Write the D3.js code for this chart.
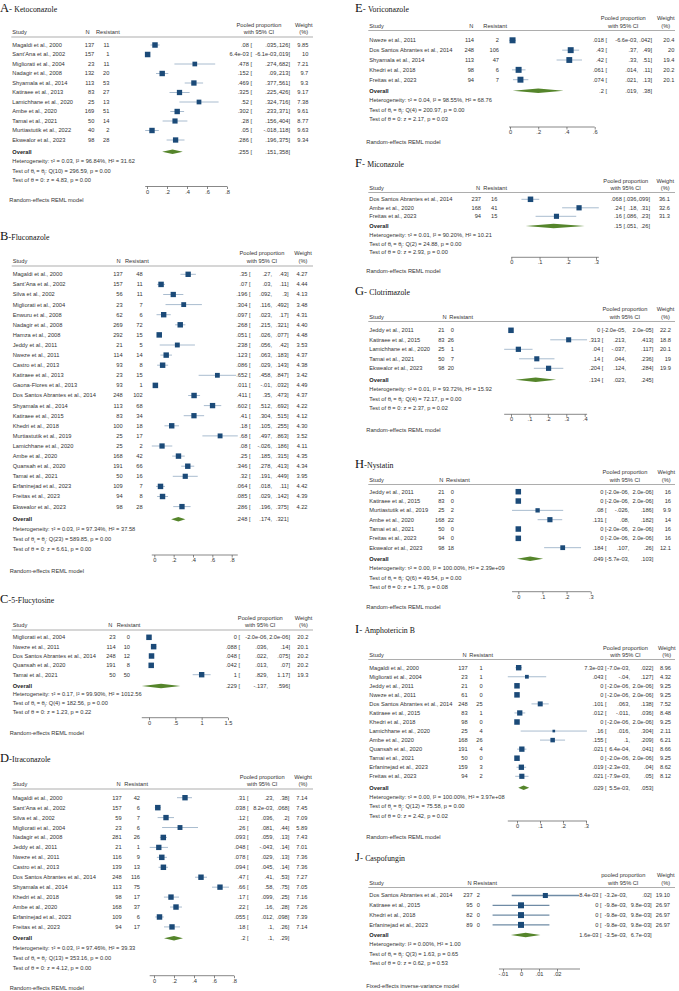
<!DOCTYPE html>
<html><head><meta charset="utf-8">
<script src="https://cdn.jsdelivr.net/npm/d3@7"></script>
<style>body{margin:0;background:#fff} svg{display:block}</style>
</head><body>
<svg id="c" width="679" height="991"></svg>
<script>
// ---------------- DATA ----------------
// A - Ketoconazole
const ketoStudies = ["Magaldi et al., 2000","Sant’Ana et al., 2002","Migliorati et al., 2004","Nadagir et al., 2008","Shyamala et al., 2014","Katiraee et al., 2013","Lamichhane et al., 2020","Ambe et al., 2020","Tamai et al., 2021","Murtiastutik et al., 2022","Ekwealor et al., 2023"];
const ketoN = [137,157,23,132,113,83,25,169,50,40,98];
const ketoRes = [11,1,11,20,53,27,13,51,14,2,28];
const ketoEst = [".08","6.4e-03",".478",".152",".469",".325",".52",".302",".28",".05",".286"];
const ketoLo = [".035","-6.1e-03",".274",".09",".377",".225",".324",".233",".156","-.018",".196"];
const ketoHi = [".126",".019",".682",".213",".561",".426",".716",".371",".404",".118",".375"];
const ketoW = ["9.85","10","7.21","9.7","9.3","9.17","7.38","9.61","8.77","9.63","9.34"];
const ketoOverall = [".255",".151",".358"];
const ketoHet = ["0.03","96.84","31.62","10","296.59","0.00","4.83","0.00"];
const ketoTicks = [0,.2,.4,.6,.8], ketoTickLabels = ["0",".2",".4",".6",".8"];

// B - Fluconazole
const flucoStudies = ["Magaldi et al., 2000","Sant’Ana et al., 2002","Silva et al., 2002","Migliorati et al., 2004","Enwuru et al., 2008","Nadagir et al., 2008","Hamza et al., 2008","Jeddy et al., 2011","Nweze et al., 2011","Castro et al., 2013","Katiraee et al., 2013","Gaona-Flores et al., 2013","Dos Santos Abrantes et al., 2014","Shyamala et al., 2014","Katiraee et al., 2015","Khedri et al., 2018","Murtiastutik et al., 2019","Lamichhane et al., 2020","Ambe et al., 2020","Quansah et al., 2020","Tamai et al., 2021","Erfaninejad et al., 2023","Freitas et al., 2023","Ekwealor et al., 2023"];
const flucoN = [137,157,56,23,62,269,292,21,114,93,23,93,248,113,83,100,25,25,168,191,50,109,94,98];
const flucoRes = [48,11,11,7,6,72,15,5,14,8,15,1,102,68,34,18,17,2,42,66,16,7,8,28];
const flucoEst = [".35",".07",".196",".304",".097",".268",".051",".238",".123",".086",".652",".011",".411",".602",".41",".18",".68",".08",".25",".346",".32",".064",".085",".286"];
const flucoLo = [".27",".03",".092",".116",".023",".215",".026",".056",".063",".029",".458","-.01",".35",".512",".304",".105",".497","-.026",".185",".278",".191",".018",".029",".196"];
const flucoHi = [".43",".11",".3",".492",".17",".321",".077",".42",".183",".143",".847",".032",".473",".692",".515",".255",".863",".186",".315",".413",".449",".11",".142",".375"];
const flucoW = ["4.27","4.44","4.13","3.48","4.31","4.40","4.48","3.53","4.37","4.38","3.42","4.49","4.37","4.22","4.12","4.30","3.52","4.11","4.35","4.34","3.95","4.42","4.39","4.22"];
const flucoOverall = [".248",".174",".321"];
const flucoHet = ["0.03","97.34","37.58","23","589.85","0.00","6.61","0.00"];
const flucoTicks = [0,.2,.4,.6,.8], flucoTickLabels = ["0",".2",".4",".6",".8"];

// C - 5-Flucytosine
const flucyStudies = ["Migliorati et al., 2004","Nweze et al., 2011","Dos Santos Abrantes et al., 2014","Quansah et al., 2020","Tamai et al., 2021"];
const flucyN = [23,114,248,191,50];
const flucyRes = [0,10,12,8,50];
const flucyEst = ["0",".088",".048",".042","1"];
const flucyLo = ["-2.0e-06",".036",".022",".013",".829"];
const flucyHi = ["2.0e-06",".14",".075",".07","1.17"];
const flucyW = ["20.2","20.1","20.2","20.2","19.3"];
const flucyOverall = [".229","-.137",".596"];
const flucyHet = ["0.17","99.90","1012.56","4","182.56","0.00","1.23","0.22"];
const flucyTicks = [0,.5,1,1.5], flucyTickLabels = ["0",".5","1","1.5"];

// D - Itraconazole
const itraStudies = ["Magaldi et al., 2000","Sant’Ana et al., 2002","Silva et al., 2002","Migliorati et al., 2004","Nadagir et al., 2008","Jeddy et al., 2011","Nweze et al., 2011","Castro et al., 2013","Dos Santos Abrantes et al., 2014","Shyamala et al., 2014","Khedri et al., 2018","Ambe et al., 2020","Erfaninejad et al., 2023","Freitas et al., 2023"];
const itraN = [137,157,59,23,281,21,116,139,248,113,98,168,109,94];
const itraRes = [42,6,7,6,26,1,9,13,116,75,17,37,6,17];
const itraEst = [".31",".038",".12",".26",".093",".048",".078",".094",".47",".66",".17",".22",".055",".18"];
const itraLo = [".23","8.2e-03",".036",".081",".059","-.043",".029",".045",".41",".58",".099",".16",".012",".1"];
const itraHi = [".38",".068",".2",".44",".13",".14",".13",".14",".53",".75",".25",".28",".098",".26"];
const itraW = ["7.14","7.45","7.09","5.89","7.43","7.01","7.36","7.36","7.27","7.05","7.16","7.26","7.39","7.14"];
const itraOverall = [".2",".1",".29"];
const itraHet = ["0.03","97.46","39.33","13","353.16","0.00","4.12","0.00"];
const itraTicks = [0,.2,.4,.6,.8], itraTickLabels = ["0",".2",".4",".6",".8"];

// E - Voriconazole
const voriStudies = ["Nweze et al., 2011","Dos Santos Abrantes et al., 2014","Shyamala et al., 2014","Khedri et al., 2018","Freitas et al., 2023"];
const voriN = [114,248,113,98,94];
const voriRes = [2,106,47,6,7];
const voriEst = [".018",".43",".42",".061",".074"];
const voriLo = ["-6.6e-03",".37",".33",".014",".021"];
const voriHi = [".042",".49",".51",".11",".13"];
const voriW = ["20.4","20","19.4","20.2","20.1"];
const voriOverall = [".2",".019",".38"];
const voriHet = ["0.04","98.55","68.76","4","200.97","0.00","2.17","0.03"];
const voriTicks = [0,.2,.4,.6], voriTickLabels = ["0",".2",".4",".6"];

// F - Miconazole
const micoStudies = ["Dos Santos Abrantes et al., 2014","Ambe et al., 2020","Freitas et al., 2023"];
const micoN = [237,168,94];
const micoRes = [16,41,15];
const micoEst = [".068",".24",".16"];
const micoLo = [".036",".18",".086"];
const micoHi = [".099",".31",".23"];
const micoW = ["36.1","32.6","31.3"];
const micoOverall = [".15",".051",".26"];
const micoHet = ["0.01","90.20","10.21","2","24.88","0.00","2.93","0.00"];
const micoTicks = [0,.1,.2,.3], micoTickLabels = ["0",".1",".2",".3"];

// G - Clotrimazole
const clotStudies = ["Jeddy et al., 2011","Katiraee et al., 2015","Lamichhane et al., 2020","Tamai et al., 2021","Ekwealor et al., 2023"];
const clotN = [21,83,25,50,98];
const clotRes = [0,26,1,7,20];
const clotEst = ["0",".313",".04",".14",".204"];
const clotLo = ["-2.0e-05",".213","-.037",".044",".124"];
const clotHi = ["2.0e-05",".413",".117",".236",".284"];
const clotW = ["22.2","18.8","20.1","19","19.9"];
const clotOverall = [".134",".023",".245"];
const clotHet = ["0.01","93.72","15.92","4","72.17","0.00","2.37","0.02"];
const clotTicks = [0,.1,.2,.3,.4], clotTickLabels = ["0",".1",".2",".3",".4"];

// H - Nystatin
const nystStudies = ["Jeddy et al., 2011","Katiraee et al., 2015","Murtiastutik et al., 2019","Ambe et al., 2020","Tamai et al., 2021","Freitas et al., 2023","Ekwealor et al., 2023"];
const nystN = [21,83,25,168,50,94,98];
const nystRes = [0,0,2,22,0,0,18];
const nystEst = ["0","0",".08",".131","0","0",".184"];
const nystLo = ["-2.0e-06","-2.0e-06","-.026",".08","-2.0e-06","-2.0e-06",".107"];
const nystHi = ["2.0e-06","2.0e-06",".186",".182","2.0e-06","2.0e-06",".26"];
const nystW = ["16","16","9.9","14","16","16","12.1"];
const nystOverall = [".049","-5.7e-03",".103"];
const nystHet = ["0.00","100.00","2.39e+09","6","49.54","0.00","1.76","0.08"];
const nystTicks = [0,.1,.2,.3], nystTickLabels = ["0",".1",".2",".3"];

// I - Amphotericin B
const amphoStudies = ["Magaldi et al., 2000","Migliorati et al., 2004","Jeddy et al., 2011","Nweze et al., 2011","Dos Santos Abrantes et al., 2014","Katiraee et al., 2015","Khedri et al., 2018","Lamichhane et al., 2020","Ambe et al., 2020","Quansah et al., 2020","Tamai et al., 2021","Erfaninejad et al., 2023","Freitas et al., 2023"];
const amphoN = [137,23,21,61,248,83,98,25,168,191,50,159,94];
const amphoRes = [1,1,0,0,25,1,0,4,26,4,0,3,2];
const amphoEst = ["7.3e-03",".043","0","0",".101",".012","0",".16",".155",".021","0",".019",".021"];
const amphoLo = ["-7.0e-03","-.04","-2.0e-06","-2.0e-06",".063","-.011","-2.0e-06",".016",".1","6.4e-04","-2.0e-06","-2.3e-03","-7.9e-03"];
const amphoHi = [".022",".127","2.0e-06","2.0e-06",".138",".036","2.0e-06",".304",".209",".041","2.0e-06",".04",".05"];
const amphoW = ["8.96","4.32","9.25","9.25","7.52","8.48","9.25","2.11","6.21","8.66","9.25","8.62","8.12"];
const amphoOverall = [".029","5.5e-03",".053"];
const amphoHet = ["0.00","100.00","3.97e+08","12","75.58","0.00","2.42","0.02"];
const amphoTicks = [0,.1,.2,.3], amphoTickLabels = ["0",".1",".2",".3"];

// J - Caspofungin
const caspoStudies = ["Dos Santos Abrantes et al., 2014","Katiraee et al., 2015","Khedri et al., 2018","Erfaninejad et al., 2023"];
const caspoN = [237,95,82,89];
const caspoRes = [2,0,0,0];
const caspoEst = ["8.4e-03","0","0","0"];
const caspoLo = ["-3.2e-03","-9.8e-03","-9.8e-03","-9.8e-03"];
const caspoHi = [".02","9.8e-03","9.8e-03","9.8e-03"];
const caspoW = ["19.10","26.97","26.97","26.97"];
const caspoOverall = ["1.6e-03","-3.5e-03","6.7e-03"];
const caspoHet = [null,"0.00","1.00","3","1.63","0.65","0.62","0.53"];
const caspoTicks = [-.01,0,.01,.02], caspoTickLabels = ["-.01","0",".01",".02"];

// ---------------- PANELS ----------------
const panels = [
 {title:["A","- ","Ketoconazole"], pooled:"Pooled proportion", model:"Random-effects REML model",
  st:ketoStudies,n:ketoN,res:ketoRes,est:ketoEst,lo:ketoLo,hi:ketoHi,w:ketoW,ov:ketoOverall,het:ketoHet,ticks:ketoTicks,tl:ketoTickLabels,
  L:{tX:0,tY:11.5,h1:25,h2:32.3,rule:37,r0:45,dr:9.5,ov:151.7,het:161.3,dh:9.5,ax:186.5,model:200.3,sX:12.3,nH:89.5,nX:94.3,resH:96,resX:109.3,pH:259,wH:303.7,c1:252,c2:278,c3:290,wX:308.3,ruleX1:313,xd:[0,.8],xr:[147,227],ms:5.5}},
 {title:["B","-","Fluconazole"], pooled:"Pooled proportion", model:"Random-effects REML model",
  st:flucoStudies,n:flucoN,res:flucoRes,est:flucoEst,lo:flucoLo,hi:flucoHi,w:flucoW,ov:flucoOverall,het:flucoHet,ticks:flucoTicks,tl:flucoTickLabels,
  L:{tX:0,tY:240,h1:253,h2:261,rule:266,r0:274.3,dr:10.1,ov:519.3,het:529.3,dh:10,ax:555,model:571,sX:12.7,nH:120.7,nX:122.7,resH:125,resX:142.7,pH:262,wH:303,c1:250.5,c2:272,c3:288.5,wX:307.5,ruleX1:313,xd:[0,.8],xr:[154.3,231.7],ms:5.5}},
 {title:["C","-","5-Flucytosine"], pooled:"Pooled proportion", model:"Random-effects REML model",
  st:flucyStudies,n:flucyN,res:flucyRes,est:flucyEst,lo:flucyLo,hi:flucyHi,w:flucyW,ov:flucyOverall,het:flucyHet,ticks:flucyTicks,tl:flucyTickLabels,
  L:{tX:0,tY:603,h1:617.7,h2:625.3,rule:630,r0:637.3,dr:9.35,ov:686,het:694.3,dh:8.85,ax:717.7,model:732.7,sX:12.7,nH:112.3,nX:115.7,resH:116.7,resX:130,pH:260.3,wH:303.5,c1:240,c2:268,c3:290,wX:308.3,ruleX1:313,xd:[0,1.5],xr:[149,228],ms:5.5}},
 {title:["D","-","Itraconazole"], pooled:"Pooled proportion", model:"Random-effects REML model",
  st:itraStudies,n:itraN,res:itraRes,est:itraEst,lo:itraLo,hi:itraHi,w:itraW,ov:itraOverall,het:itraHet,ticks:itraTicks,tl:itraTickLabels,
  L:{tX:0,tY:762.3,h1:776.7,h2:784.3,rule:789,r0:797.7,dr:9.94,ov:938.3,het:948.3,dh:9.7,ax:975.7,model:988.5,sX:12.7,nH:120.7,nX:121.7,resH:124.3,resX:140,pH:262.2,wH:303,c1:248.5,c2:274,c3:289.3,wX:307.3,ruleX1:313,xd:[0,.8],xr:[154,234],ms:5.5}},
 {title:["E","- ","Voriconazole"], pooled:"Pooled proportion", model:"Random-effects REML model",
  st:voriStudies,n:voriN,res:voriRes,est:voriEst,lo:voriLo,hi:voriHi,w:voriW,ov:voriOverall,het:voriHet,ticks:voriTicks,tl:voriTickLabels,
  L:{tX:355,tY:11.5,h1:18.3,h2:26,rule:30.5,r0:40.3,dr:9.85,ov:90.7,het:100,dh:9.65,ax:127,model:142,sX:369.3,nH:473.3,nX:474,resH:483.3,resX:499,pH:623.3,wH:665.8,c1:607,c2:638,c3:652,wX:674.3,ruleX1:675,xd:[0,.6],xr:[510,594.7],ms:6}},
 {title:["F","- ","Miconazole"], pooled:"Pooled proportion", model:"Random-effects REML model",
  st:micoStudies,n:micoN,res:micoRes,est:micoEst,lo:micoLo,hi:micoHi,w:micoW,ov:micoOverall,het:micoHet,ticks:micoTicks,tl:micoTickLabels,
  L:{tX:355,tY:166.7,h1:181,h2:188,rule:192.5,r0:199.3,dr:8.5,ov:226,het:235.3,dh:8.5,ax:257.3,model:270.7,sX:369.3,nH:480,nX:481,resH:483.3,resX:497.3,pH:625.8,wH:665.2,c1:625,c2:638,c3:650,wX:670,ruleX1:675,xd:[0,.3],xr:[511.3,596],ms:5.5}},
 {title:["G","- ","Clotrimazole"], pooled:"Pooled proportion", model:"Random-effects REML model",
  st:clotStudies,n:clotN,res:clotRes,est:clotEst,lo:clotLo,hi:clotHi,w:clotW,ov:clotOverall,het:clotHet,ticks:clotTicks,tl:clotTickLabels,
  L:{tX:355,tY:295,h1:309.3,h2:317,rule:321.5,r0:330.3,dr:9.5,ov:379.7,het:389.3,dh:9.35,ax:414.3,model:429.7,sX:369.3,nH:446.5,nX:444.5,resH:449.3,resX:454,pH:625,wH:665.5,c1:603.3,c2:626,c3:653.3,wX:671,ruleX1:675,xd:[0,.4],xr:[511,584.7],ms:5.5}},
 {title:["H","-","Nystatin"], pooled:"Pooled proportion", model:"Random-effects REML model",
  st:nystStudies,n:nystN,res:nystRes,est:nystEst,lo:nystLo,hi:nystHi,w:nystW,ov:nystOverall,het:nystHet,ticks:nystTicks,tl:nystTickLabels,
  L:{tX:355,tY:467.7,h1:472.3,h2:480,rule:484.5,r0:491.7,dr:9.33,ov:558.7,het:568.3,dh:9.35,ax:591.7,model:607.3,sX:369.3,nH:443.3,nX:444.5,resH:446,resX:454,pH:625,wH:666.3,c1:606.7,c2:629.3,c3:653.3,wX:671,ruleX1:675,xd:[0,.3],xr:[518.3,590.7],ms:5.5}},
 {title:["I","- ","Amphotericin B"], pooled:"Pooled proportion", model:"Random-effects REML model",
  st:amphoStudies,n:amphoN,res:amphoRes,est:amphoEst,lo:amphoLo,hi:amphoHi,w:amphoW,ov:amphoOverall,het:amphoHet,ticks:amphoTicks,tl:amphoTickLabels,
  L:{tX:355,tY:632.7,h1:647.7,h2:655,rule:659.5,r0:667.7,dr:9.05,ov:787.7,het:797.3,dh:9.2,ax:821,model:836.7,sX:369.3,nH:466.7,nX:467.7,resH:469.3,resX:482.7,pH:625.5,wH:666.7,c1:606.7,c2:630,c3:653.3,wX:671,ruleX1:675,xd:[0,.3],xr:[517,586],ms:5.5}},
 {title:["J","- ","Caspofungin"], pooled:"pooled proportion", model:"Fixed-effects inverse-variance model",
  st:caspoStudies,n:caspoN,res:caspoRes,est:caspoEst,lo:caspoLo,hi:caspoHi,w:caspoW,ov:caspoOverall,het:caspoHet,ticks:caspoTicks,tl:caspoTickLabels,
  L:{tX:355,tY:861,h1:875,h2:883,rule:887.5,r0:895.5,dr:9.8,ov:935,het:944.5,dh:9.5,ax:969,model:986,sX:369.3,nH:471.7,nX:472.7,resH:473.3,resX:480,pH:623.3,wH:665.8,c1:601.7,c2:627.3,c3:651.7,wX:670,ruleX1:675,xd:[0,.02],xr:[521,579],axr:[521,557],ms:6,ciDark:true,axLine:[499,580]}}
];

// ---------------- DRAW ----------------
const svg = d3.select("#c");
const FS = 5.7;
const FONT = "'Liberation Sans', Arial, Helvetica, sans-serif";
const SERIF = "'Liberation Serif', 'Times New Roman', serif";
const TXT = "#333";
const MARK = "#1b4a78";
const DIAM = "#55852b";

function drawPanel(P) {
  const L = P.L;
  const g = svg.append("g").attr("font-family", FONT).attr("font-size", FS).attr("fill", TXT);
  const x = d3.scaleLinear().domain(L.xd).range(L.xr);
  // axis scale (same as data scale, except where the reference's axis labels sit elsewhere)
  const xa = d3.scaleLinear().domain(L.xd).range(L.axr || L.xr);
  const T = (xx, yc, s, anchor) => g.append("text").attr("x", xx).attr("y", yc + FS * 0.35)
      .attr("text-anchor", anchor || "start").text(s);

  // title
  const t = g.append("text").attr("x", L.tX).attr("y", L.tY).attr("font-family", SERIF).attr("fill", "#111");
  t.append("tspan").attr("font-size", 12.5).text(P.title[0]);
  t.append("tspan").attr("font-size", 9).text(P.title[1]);
  t.append("tspan").attr("font-size", 7.8).text(P.title[2]);

  // header
  T(L.sX, L.h2, "Study");
  T(L.nH, L.h2, "N", "end");
  T(L.resH, L.h2, "Resistant");
  T(L.pH, L.h1, P.pooled, "middle");
  T(L.pH, L.h2, "with 95% CI", "middle");
  T(L.wH, L.h1, "Weight", "middle");
  T(L.wH, L.h2, "(%)", "middle");
  g.append("line").attr("x1", L.sX - 1).attr("x2", L.ruleX1).attr("y1", L.rule).attr("y2", L.rule)
    .attr("stroke", "#8a8a8a").attr("stroke-width", 0.7);

  const wNum = P.w.map(Number);
  const wMax = d3.max(wNum);

  P.st.forEach((s, i) => {
    const y = L.r0 + i * L.dr;
    T(L.sX, y, s);
    T(L.nX, y, String(P.n[i]), "end");
    T(L.resX, y, String(P.res[i]), "end");
    const e = +P.est[i], lo = +P.lo[i], hi = +P.hi[i];
    if (x(hi) - x(lo) > 0.3) {
      g.append("line").attr("x1", x(lo)).attr("x2", x(hi)).attr("y1", y).attr("y2", y)
        .attr("stroke", L.ciDark ? "#6f8ba5" : "#a9bccf").attr("stroke-width", L.ciDark ? 1.3 : 1);
    }
    const side = L.ms * Math.sqrt(wNum[i] / wMax);
    g.append("rect").attr("x", x(e) - side / 2).attr("y", y - side / 2)
      .attr("width", side).attr("height", side).attr("fill", MARK);
    T(L.c1, y, P.est[i] + " [", "end");
    T(L.c2, y, P.lo[i] + ",", "end");
    T(L.c3, y, P.hi[i] + "]", "end");
    T(L.wX, y, P.w[i], "end");
  });

  // overall
  const oy = L.ov;
  T(L.sX, oy, "Overall").attr("font-weight", "bold").attr("fill", "#222");
  const oe = +P.ov[0], olo = +P.ov[1], ohi = +P.ov[2];
  g.append("polygon")
    .attr("points", [[x(olo), oy], [x(oe), oy - 2.2], [x(ohi), oy], [x(oe), oy + 2.2]].map(p => p.join(",")).join(" "))
    .attr("fill", DIAM);
  T(L.c1, oy, P.ov[0] + " [", "end");
  T(L.c2, oy, P.ov[1] + ",", "end");
  T(L.c3, oy, P.ov[2] + "]", "end");

  // heterogeneity / tests
  const H = P.het;
  if (H[0] === null) T(L.sX, L.het, `Heterogeneity: I² = ${H[1]}%, H² = ${H[2]}`);
  else T(L.sX, L.het, `Heterogeneity: τ² = ${H[0]}, I² = ${H[1]}%, H² = ${H[2]}`);
  const t2 = g.append("text").attr("x", L.sX).attr("y", L.het + L.dh + FS * 0.35);
  t2.append("tspan").text("Test of θ");
  t2.append("tspan").attr("font-size", 4).attr("dy", 1.3).text("i");
  t2.append("tspan").attr("dy", -1.3).text(" = θ");
  t2.append("tspan").attr("font-size", 4).attr("dy", 1.3).text("j");
  t2.append("tspan").attr("dy", -1.3).text(`: Q(${H[3]}) = ${H[4]}, p = ${H[5]}`);
  T(L.sX, L.het + 2 * L.dh, `Test of θ = 0: z = ${H[6]}, p = ${H[7]}`);

  // axis
  const ax = d3.axisBottom(xa).tickValues(P.ticks).tickFormat((d, i) => P.tl[i])
    .tickSize(2.5).tickSizeOuter(0).tickPadding(0.6);
  const ag = g.append("g").attr("transform", `translate(0,${L.ax})`).call(ax);
  ag.attr("font-size", FS).attr("font-family", FONT);
  ag.select(".domain").remove();
  ag.selectAll(".tick line").attr("stroke", "#555").attr("stroke-width", 0.7);
  ag.selectAll(".tick text").attr("fill", TXT);
  const lov = P.lo.map(Number), hiv = P.hi.map(Number);
  const e0 = Math.min(P.ticks[0], d3.min(lov), olo), e1 = Math.max(P.ticks[P.ticks.length - 1], d3.max(hiv), ohi);
  const lx = L.axLine || [xa(e0), xa(e1)];
  ag.append("line").attr("x1", lx[0]).attr("x2", lx[1]).attr("y1", 0).attr("y2", 0)
    .attr("stroke", "#555").attr("stroke-width", 0.7);

  T(L.sX - 3, L.model, P.model);
}

panels.forEach(drawPanel);
</script>
</body></html>
